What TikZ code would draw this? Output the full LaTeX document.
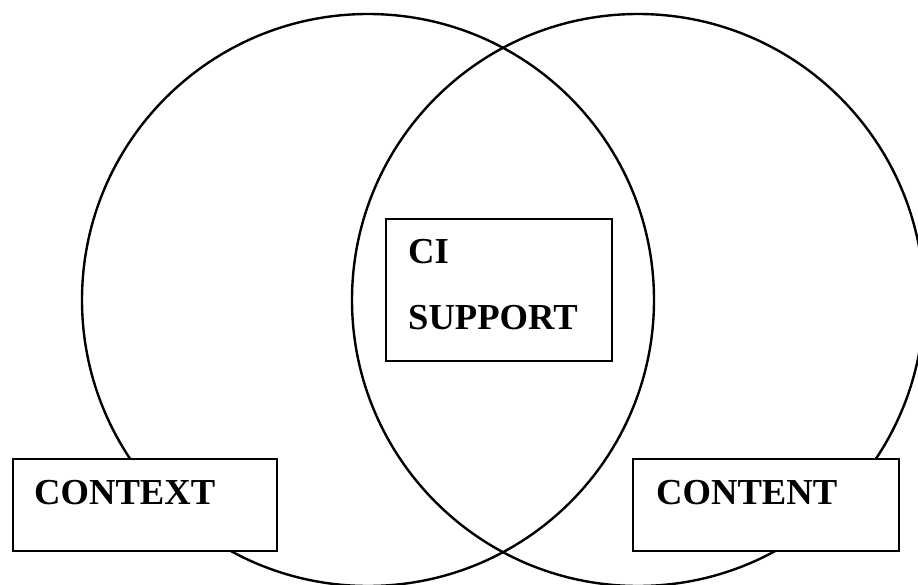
\documentclass[tikz,border=0pt]{standalone}
\usepackage{fontspec}
\setmainfont{Liberation Serif}
\begin{document}
\begin{tikzpicture}[x=1pt,y=-1pt,
  ring/.style={draw=black,line width=2.4pt},
  labelbox/.style={draw=black,fill=white,line width=2pt,rectangle,inner sep=0pt},
  label/.style={anchor=base west,inner sep=0pt,font=\fontsize{36.6}{40}\selectfont\bfseries}]
\useasboundingbox (0,0) rectangle (918,585);
\draw[ring] (368,300) circle[radius=286];
\draw[ring] (638,300) circle[radius=286];
\node[labelbox,minimum width=264pt,minimum height=92pt] (ctxbox) at (145,505) {};
\node[labelbox,minimum width=266pt,minimum height=92pt] (cntbox) at (766,505) {};
\node[labelbox,minimum width=226pt,minimum height=142pt] (cibox) at (499,290) {};
\node[label] (ctx) at (34,504) {CONTEXT};
\node[label] (cnt) at (656,504) {CONTENT};
\node[label] (ci) at (408,264) {CI};
\node[label] (sup) at (408,329) {SUPPORT};
\end{tikzpicture}
\end{document}
